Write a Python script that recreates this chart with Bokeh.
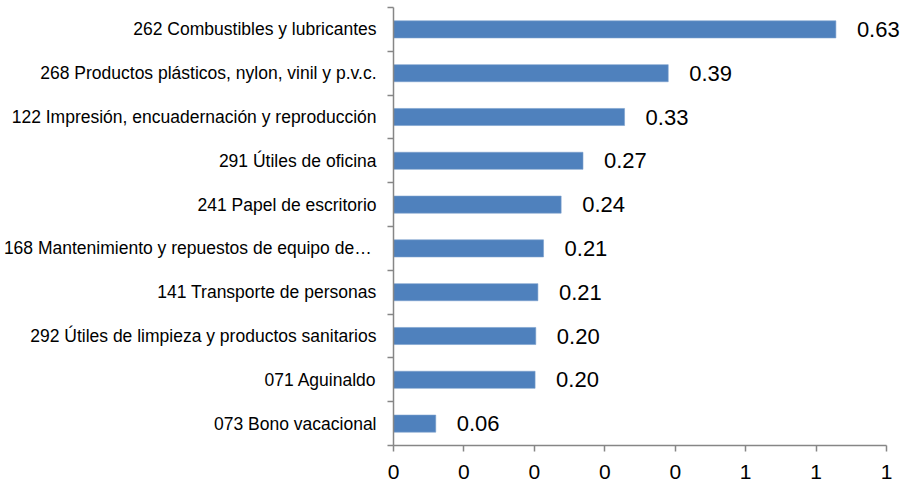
from bokeh.plotting import figure
from bokeh.models import FixedTicker, Range1d, Label, ColumnDataSource
from bokeh.embed import file_html
from bokeh.resources import INLINE

# Data (top to bottom as shown)
categories = [
    "262 Combustibles y lubricantes",
    "268 Productos plásticos, nylon, vinil y p.v.c.",
    "122 Impresión, encuadernación y reproducción",
    "291 Útiles de oficina",
    "241 Papel de escritorio",
    "168 Mantenimiento y repuestos de  equipo de…",
    "141 Transporte de personas",
    "292 Útiles de limpieza y productos sanitarios",
    "071 Aguinaldo",
    "073 Bono vacacional",
]
values = [0.628, 0.390, 0.328, 0.269, 0.238, 0.213, 0.205, 0.202, 0.201, 0.060]
value_labels = ["0.63", "0.39", "0.33", "0.27", "0.24", "0.21", "0.21", "0.20", "0.20", "0.06"]

x_tick_values = [0.0, 0.1, 0.2, 0.3, 0.4, 0.5, 0.6, 0.7]
x_tick_labels = ["0", "0", "0", "0", "0", "1", "1", "1"]

n = len(categories)
ypos = [n - 1 - i + 0.5 for i in range(n)]
boundaries = list(range(n + 1))

src = ColumnDataSource(dict(y=ypos, v=values, cat=categories))

FONT = "Liberation Sans"
AX = "#868686"

# frame extends a little past the last tick so the value labels are not clipped;
# the axis line itself is bounded to the tick range
p = figure(frame_width=510, frame_height=438, output_backend="svg", toolbar_location=None,
           x_range=Range1d(0, 0.724), y_range=Range1d(0, n),
           min_border_left=385, min_border_right=0, min_border_top=7, min_border_bottom=40)
p.outline_line_color = None
p.xgrid.visible = False
p.ygrid.visible = False
p.background_fill_color = "white"

p.hbar(y="y", right="v", left=0, height=0.39, source=src,
       fill_color="#4F81BD", line_color="#7A9FCC", line_width=0.6)

for y, v, lab in zip(ypos, values, value_labels):
    p.add_layout(Label(x=v, y=y, text=lab, x_offset=21,
                       text_baseline="middle", text_align="left",
                       text_font=FONT, text_font_size="22px", text_color="black"))

# x axis
xa = p.xaxis[0]
xa.bounds = (x_tick_values[0], x_tick_values[-1])
xa.ticker = FixedTicker(ticks=x_tick_values)
xa.major_label_overrides = {t: l for t, l in zip(x_tick_values, x_tick_labels)}
xa.axis_line_color = AX
xa.axis_line_width = 1.5
xa.major_tick_line_color = AX
xa.major_tick_line_width = 1.5
xa.major_tick_in = 0
xa.major_tick_out = 6
xa.minor_tick_line_color = None
xa.major_label_standoff = 13
xa.major_label_text_font = FONT
xa.major_label_text_font_size = "21px"
xa.major_label_text_color = "black"

# y axis
ya = p.yaxis[0]
ya.ticker = FixedTicker(ticks=ypos, minor_ticks=boundaries)
ya.major_label_overrides = {y: c for y, c in zip(ypos, categories)}
ya.axis_line_color = AX
ya.axis_line_width = 1.5
ya.major_tick_line_color = None
ya.major_tick_in = 0
ya.major_tick_out = 0
ya.minor_tick_line_color = AX
ya.minor_tick_line_width = 1.5
ya.minor_tick_in = 0
ya.minor_tick_out = 6
ya.major_label_standoff = 11
ya.major_label_text_font = FONT
ya.major_label_text_font_size = "17.5px"
ya.major_label_text_color = "black"

open("out.html", "w").write(file_html(p, INLINE))
